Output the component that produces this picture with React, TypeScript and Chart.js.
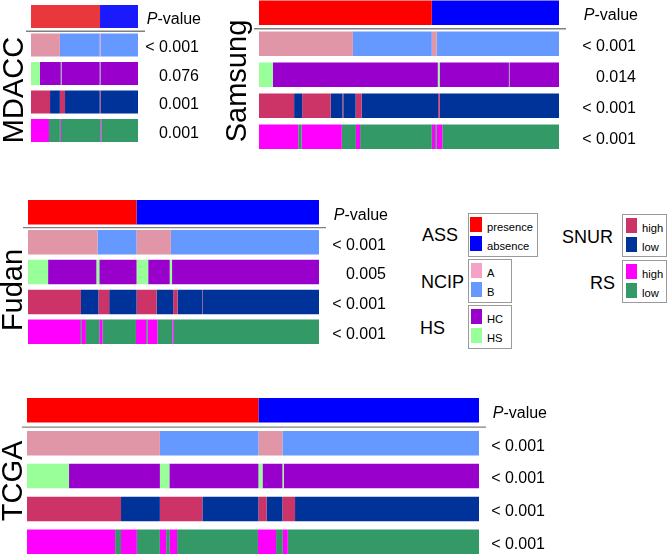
import React, { useEffect, useRef } from "react";
import { Chart, registerables } from "chart.js";
Chart.register(...registerables);

type Seg = [string, number];

const rowNames = ["ASS", "NCIP", "HS", "SNUR", "RS"];

// ---- MDACC (percent of patients per segment, left to right) ----
const mdaccASS: Seg[] = [["presence", 64.5], ["absence", 35.5]];
const mdaccNCIP: Seg[] = [["A", 27], ["B", 37.2], ["A", 0.8], ["B", 35]];
const mdaccHS: Seg[] = [["HS", 8.4], ["HC", 19.4], ["HS", 0.6], ["HC", 35.8], ["HS", 0.6], ["HC", 35.2]];
const mdaccSNUR: Seg[] = [["high", 17.8], ["low", 9.2], ["high", 4.8], ["low", 32.4], ["high", 0.8], ["low", 35]];
const mdaccRS: Seg[] = [["high", 16.8], ["low", 10.2], ["high", 0.8], ["low", 37], ["high", 0.9], ["low", 34.3]];
const mdaccP = ["< 0.001", "0.076", "0.001", "0.001"];

// ---- Samsung ----
const samsungASS: Seg[] = [["presence", 57.6], ["absence", 42.4]];
const samsungNCIP: Seg[] = [["A", 31.3], ["B", 26.3], ["A", 1.6], ["B", 40.8]];
const samsungHS: Seg[] = [["HS", 4.6], ["HC", 55.0], ["HS", 0.6], ["HC", 23.1], ["HS", 0.15], ["HC", 16.55]];
const samsungSNUR: Seg[] = [["high", 11.7], ["low", 2.7], ["high", 9.5], ["low", 3.9], ["high", 0.3], ["low", 4.1], ["high", 2.0], ["low", 25.5], ["high", 0.5], ["low", 39.8]];
const samsungRS: Seg[] = [["high", 13.1], ["low", 1.1], ["high", 13.4], ["low", 4.7], ["high", 1.4], ["low", 23.9], ["high", 1.1], ["low", 0.5], ["high", 1.9], ["low", 38.9]];
const samsungP = ["< 0.001", "0.014", "< 0.001", "< 0.001"];

// ---- Fudan ----
const fudanASS: Seg[] = [["presence", 37.3], ["absence", 62.7]];
const fudanNCIP: Seg[] = [["A", 23.9], ["B", 13.4], ["A", 11.8], ["B", 50.9]];
const fudanHS: Seg[] = [["HS", 6.9], ["HC", 16.6], ["HS", 1.0], ["HC", 12.8], ["HS", 4.0], ["HC", 7.4], ["HS", 0.8], ["HC", 50.5]];
const fudanSNUR: Seg[] = [["high", 18.2], ["low", 6.0], ["high", 3.7], ["low", 9.4], ["high", 6.9], ["low", 5.7], ["high", 1.5], ["low", 8.5], ["high", 0.2], ["low", 39.9]];
const fudanRS: Seg[] = [["high", 17.9], ["low", 0.4], ["high", 1.6], ["low", 4.6], ["high", 1.1], ["low", 11.5], ["high", 3.5], ["low", 0.5], ["high", 3.4], ["low", 5.1], ["high", 0.5], ["low", 49.9]];
const fudanP = ["< 0.001", "0.005", "< 0.001", "< 0.001"];

// ---- TCGA ----
const tcgaASS: Seg[] = [["presence", 51.2], ["absence", 48.8]];
const tcgaNCIP: Seg[] = [["A", 29.4], ["B", 21.8], ["A", 5.3], ["B", 43.5]];
const tcgaHS: Seg[] = [["HS", 9.3], ["HC", 20.1], ["HS", 2.1], ["HC", 19.7], ["HS", 0.9], ["HC", 4.4], ["HS", 0.3], ["HC", 43.2]];
const tcgaSNUR: Seg[] = [["high", 20.8], ["low", 8.6], ["high", 9.4], ["low", 12.4], ["high", 1.8], ["low", 3.5], ["high", 2.8], ["low", 40.7]];
const tcgaRS: Seg[] = [["high", 19.5], ["low", 1.3], ["high", 3.5], ["low", 5.1], ["high", 1.4], ["low", 0.8], ["high", 1.6], ["low", 17.9], ["high", 4.0], ["low", 1.5], ["high", 1.1], ["low", 42.3]];
const tcgaP = ["< 0.001", "< 0.001", "< 0.001", "< 0.001"];

// ---- legend ----
const legendGroups = ["ASS", "NCIP", "HS", "SNUR", "RS"];
const legendItems: Record<string, string[]> = {
  ASS: ["presence", "absence"],
  NCIP: ["A", "B"],
  HS: ["HC", "HS"],
  SNUR: ["high", "low"],
  RS: ["high", "low"],
};

// ---- styles ----
const rowColors: Record<string, Record<string, string>> = {
  ASS: { presence: "#FF0000", absence: "#0000FF" },
  NCIP: { A: "#E096A6", B: "#6699FF" },
  HS: { HC: "#9900CC", HS: "#99FF99" },
  SNUR: { high: "#CC3366", low: "#003399" },
  RS: { high: "#FF00FF", low: "#339966" },
};
const mdaccAssColors = { presence: "#E8383C", absence: "#1A1AFF" };
const legendColors: Record<string, Record<string, string>> = {
  ASS: { presence: "#FF0000", absence: "#0000FF" },
  NCIP: { A: "#F4A3C6", B: "#6699FF" },
  HS: { HC: "#9900CC", HS: "#99FF99" },
  SNUR: { high: "#CC3366", low: "#003399" },
  RS: { high: "#FF00FF", low: "#339966" },
};

const FONT = "'Liberation Sans', Arial, Helvetica, sans-serif";

type Geom = {
  barLeft: number; barRight: number; assTop: number; rsBottom: number; barH: number;
  cLeft: number; cRight: number; textRight: number; labelX: number; labelY: number;
};

type PanelCfg = {
  name: string;
  rows: Seg[][];
  pvals: string[];
  geom: Geom;
  assColors?: Record<string, string>;
};

const panels: PanelCfg[] = [
  {
    name: "MDACC",
    rows: [mdaccASS, mdaccNCIP, mdaccHS, mdaccSNUR, mdaccRS],
    pvals: mdaccP,
    assColors: mdaccAssColors,
    geom: { barLeft: 31, barRight: 138, assTop: 5, rsBottom: 142, barH: 23, cLeft: 0, cRight: 212, textRight: 199, labelX: 23, labelY: 90 },
  },
  {
    name: "Samsung",
    rows: [samsungASS, samsungNCIP, samsungHS, samsungSNUR, samsungRS],
    pvals: samsungP,
    geom: { barLeft: 259, barRight: 559, assTop: 0.5, rsBottom: 149, barH: 24.5, cLeft: 214, cRight: 662, textRight: 636, labelX: 246, labelY: 81 },
  },
  {
    name: "Fudan",
    rows: [fudanASS, fudanNCIP, fudanHS, fudanSNUR, fudanRS],
    pvals: fudanP,
    geom: { barLeft: 28, barRight: 319, assTop: 200, rsBottom: 344, barH: 24.5, cLeft: 0, cRight: 400, textRight: 386, labelX: 22, labelY: 290 },
  },
  {
    name: "TCGA",
    rows: [tcgaASS, tcgaNCIP, tcgaHS, tcgaSNUR, tcgaRS],
    pvals: tcgaP,
    geom: { barLeft: 27, barRight: 479, assTop: 398, rsBottom: 554, barH: 24.5, cLeft: 0, cRight: 565, textRight: 545, labelX: 22, labelY: 481 },
  },
];

function layoutOf(g: Geom) {
  const pitch = (g.rsBottom - g.assTop - g.barH) / 4;
  const areaTop = g.assTop - (pitch - g.barH) / 2;
  const areaBottom = g.rsBottom + (pitch - g.barH) / 2;
  const cTop = Math.floor(areaTop) - 8;
  const cBottom = Math.ceil(areaBottom) + 8;
  return { pitch, areaTop, areaBottom, cTop, cBottom, width: g.cRight - g.cLeft, height: cBottom - cTop };
}

function Panel({ cfg }: { cfg: PanelCfg }) {
  const ref = useRef<HTMLCanvasElement>(null);
  const g = cfg.geom;
  const L = layoutOf(g);

  useEffect(() => {
    if (!ref.current) return;
    const datasets: any[] = [];
    cfg.rows.forEach((segs, r) => {
      const rn = rowNames[r];
      const cmap = r === 0 && cfg.assColors ? cfg.assColors : rowColors[rn];
      segs.forEach(([cat, w]) => {
        datasets.push({
          label: rn + ":" + cat,
          data: rowNames.map((_, i) => (i === r ? w : null)),
          backgroundColor: cmap[cat],
          borderWidth: 0,
          barPercentage: g.barH / L.pitch,
          categoryPercentage: 1,
          stack: "all",
        });
      });
    });

    const textPlugin = {
      id: "panelText",
      afterDraw(chart: any) {
        const ctx = chart.ctx as CanvasRenderingContext2D;
        const ys = chart.scales.y;
        const xs = chart.scales.x;
        ctx.save();
        // separator line under ASS
        const lineY = (ys.getPixelForTick(0) + ys.getPixelForTick(1)) / 2 + 0.5;
        ctx.strokeStyle = "#808080";
        ctx.lineWidth = 1.3;
        ctx.beginPath();
        ctx.moveTo(xs.left - 5, lineY);
        ctx.lineTo(xs.right + 7, lineY);
        ctx.stroke();

        // P-values
        const tx = g.textRight - g.cLeft;
        ctx.fillStyle = "#000";
        ctx.textBaseline = "middle";
        ctx.textAlign = "right";
        ctx.font = `16px ${FONT}`;
        const y0 = ys.getPixelForTick(0) + 3;
        const rest = "-value";
        const rw = ctx.measureText(rest).width;
        ctx.fillText(rest, tx + 2, y0);
        ctx.font = `italic 16px ${FONT}`;
        ctx.fillText("P", tx + 2 - rw, y0);
        ctx.font = `16px ${FONT}`;
        cfg.pvals.forEach((p, i) => {
          ctx.fillText(p, tx, ys.getPixelForTick(i + 1) + 3);
        });

        // panel label, rotated
        ctx.translate(g.labelX - g.cLeft, g.labelY - L.cTop);
        ctx.rotate(-Math.PI / 2);
        ctx.textAlign = "center";
        ctx.textBaseline = "alphabetic";
        ctx.font = `29px ${FONT}`;
        ctx.fillText(cfg.name, 0, 0);
        ctx.restore();
      },
    };

    const chart = new Chart(ref.current, {
      type: "bar",
      data: { labels: rowNames, datasets },
      options: {
        indexAxis: "y",
        responsive: false,
        animation: false,
        maintainAspectRatio: false,
        layout: {
          padding: {
            left: g.barLeft - g.cLeft,
            right: g.cRight - g.barRight,
            top: L.areaTop - L.cTop,
            bottom: L.cBottom - L.areaBottom,
          },
        },
        plugins: { legend: { display: false }, tooltip: { enabled: false } },
        scales: {
          x: { type: "linear", min: 0, max: 100, stacked: true, display: false },
          y: { type: "category", stacked: true, display: false },
        },
      } as any,
      plugins: [textPlugin],
    });
    return () => chart.destroy();
  }, []);

  return (
    <canvas
      ref={ref}
      width={L.width}
      height={L.height}
      style={{ position: "absolute", left: g.cLeft, top: L.cTop, width: L.width, height: L.height }}
    />
  );
}

type LegendPos = { headX: number; headY: number; boxX: number; boxY: number; boxW: number; boxH: number; swX: number; swW: number; sw1: number; textX: number };
const legendPos: Record<string, LegendPos> = {
  ASS: { headX: 422, headY: 235, boxX: 468, boxY: 213, boxW: 70, boxH: 44, swX: 470, swW: 12, sw1: 217, textX: 487 },
  NCIP: { headX: 421, headY: 282, boxX: 468, boxY: 259, boxW: 44, boxH: 44, swX: 471, swW: 11, sw1: 263, textX: 487 },
  HS: { headX: 420, headY: 328, boxX: 468, boxY: 305, boxW: 44, boxH: 44, swX: 471, swW: 11, sw1: 309, textX: 487 },
  SNUR: { headX: 562, headY: 237, boxX: 622, boxY: 214, boxW: 45, boxH: 43, swX: 626, swW: 11, sw1: 218, textX: 642 },
  RS: { headX: 590, headY: 283, boxX: 622, boxY: 260, boxW: 45, boxH: 43, swX: 626, swW: 11, sw1: 264, textX: 642 },
};

function Legend() {
  const els: any[] = [];
  legendGroups.forEach((grp) => {
    const p = legendPos[grp];
    els.push(
      <div key={grp + "h"} style={{ position: "absolute", left: p.headX, top: p.headY - 10, fontSize: 18, lineHeight: "20px", whiteSpace: "nowrap" }}>
        {grp}
      </div>
    );
    els.push(
      <div key={grp + "b"} style={{ position: "absolute", left: p.boxX, top: p.boxY, width: p.boxW, height: p.boxH, border: "1px solid #9a9a9a", boxSizing: "border-box" }} />
    );
    legendItems[grp].forEach((it, i) => {
      const sy = p.sw1 + i * 19;
      els.push(
        <div key={grp + it + "s"} style={{ position: "absolute", left: p.swX, top: sy, width: p.swW, height: 15, background: legendColors[grp][it] }} />
      );
      els.push(
        <div key={grp + it + "t"} style={{ position: "absolute", left: p.textX, top: sy + 2.5, fontSize: 11.2, lineHeight: "15px", whiteSpace: "nowrap" }}>
          {it}
        </div>
      );
    });
  });
  return <>{els}</>;
}

export default function App() {
  return (
    <div
      style={{
        position: "absolute",
        left: 0,
        top: 0,
        width: 667,
        height: 555,
        overflow: "hidden",
        background: "#fff",
        fontFamily: FONT,
        color: "#000",
      }}
    >
      {panels.map((p) => (
        <Panel key={p.name} cfg={p} />
      ))}
      <Legend />
    </div>
  );
}
